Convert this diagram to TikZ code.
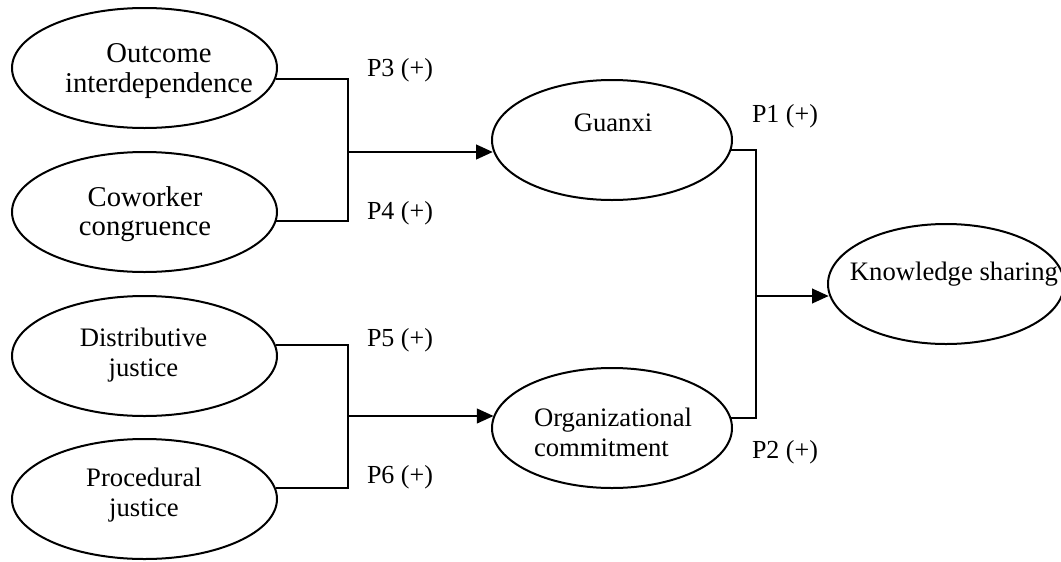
\documentclass[tikz,border=0pt]{standalone}
\usepackage{fontspec}
\setmainfont{Liberation Serif}
\usetikzlibrary{shapes.geometric,arrows.meta}
\begin{document}
\begin{tikzpicture}[x=0.75pt,y=-0.75pt,
  ell/.style={draw, ellipse, line width=1.5pt, inner sep=0pt, minimum height=90pt},
  lft/.style={ell, minimum width=198.75pt},
  mid/.style={ell, minimum width=180pt},
  conn/.style={line width=1.5pt},
  arr/.style={conn, -{Triangle[length=12.5pt,width=11pt]}},
  txt/.style={font=\fontsize{20}{22.5}\selectfont, align=center, inner sep=0pt},
  big/.style={font=\fontsize{21.5}{22}\selectfont, align=center, inner sep=0pt},
  lab/.style={font=\fontsize{19.5}{22}\selectfont, inner sep=0pt}]
\useasboundingbox (0,0) rectangle (1061,561);
% ellipses
\node[lft] (oi) at (144.5,68) {};
\node[lft] (cc) at (144.5,212) {};
\node[lft] (dj) at (144.5,356) {};
\node[lft] (pj) at (144.5,499) {};
\node[mid] (gx) at (612,140) {};
\node[mid] (oc) at (612,428) {};
\node[ell, minimum width=177pt] (ks) at (946,284) {};
% texts
\node[big] (toi) at (159,71) {Outcome\\interdependence};
\node[big] (tcc) at (145,214) {Coworker\\congruence};
\node[txt] (tdj) at (143.5,355) {Distributive\\justice};
\node[txt] (tpj) at (144,495) {Procedural\\justice};
\node[txt] (tgx) at (613,123) {Guanxi};
\node[txt, align=left] (toc) at (613,432) {Organizational\\commitment};
\node[txt] (tks) at (954,274) {Knowledge sharing};
% labels
\node[lab] (p3) at (400,70) {P3 (+)};
\node[lab] (p4) at (400,213) {P4 (+)};
\node[lab] (p5) at (400,340) {P5 (+)};
\node[lab] (p6) at (400,477) {P6 (+)};
\node[lab] (p1) at (785,116) {P1 (+)};
\node[lab] (p2) at (785,452) {P2 (+)};
% junctions
\coordinate (j1) at (348,152);
\coordinate (j2) at (348,416);
\coordinate (j3) at (756,296);
% connectors
\draw[conn] (oi.-5.3) -| (j1) |- (cc.-4.8);
\draw[arr] (j1) -- (j1 -| gx.185.8);
\draw[conn] (dj.5.3) -| (j2) |- (pj.5.3);
\draw[arr] (j2) -- (j2 -| oc.174.2);
\draw[conn] (gx.-5.8) -| (j3) |- (oc.5.8);
\draw[arr] (j3) -- (j3 -| ks.185.9);
\end{tikzpicture}
\end{document}
